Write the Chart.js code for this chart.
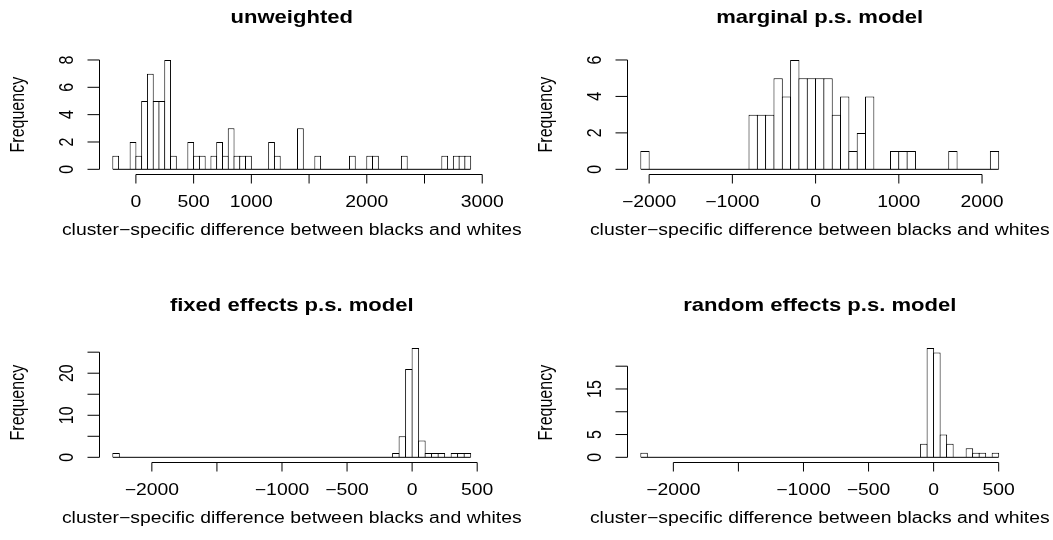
<!DOCTYPE html>
<html>
<head>
<meta charset="utf-8">
<script src="https://cdn.jsdelivr.net/npm/chart.js@4/dist/chart.umd.min.js"></script>
<style>
  body { margin: 0; background: #fff; overflow: hidden; }
  canvas { position: absolute; }
</style>
</head>
<body>
<canvas id="c1" width="526" height="270" style="left:0;top:0"></canvas>
<canvas id="c2" width="525" height="270" style="left:528px;top:0"></canvas>
<canvas id="c3" width="526" height="252" style="left:0;top:288px"></canvas>
<canvas id="c4" width="525" height="252" style="left:528px;top:288px"></canvas>
<script>
const xTitle = 'cluster\u2212specific difference between blacks and whites';

// unweighted: bins of 50 starting at -200
const unwStart = -200, unwWidth = 50;
const unwCounts = [1, 0, 0, 2, 1, 5, 7, 5, 5, 8,
                   1, 0, 0, 2, 1, 1, 0, 1, 2, 1,
                   3, 1, 1, 1, 0, 0, 0, 2, 1, 0,
                   0, 0, 3, 0, 0, 1, 0, 0, 0, 0,
                   0, 1, 0, 0, 1, 1, 0, 0, 0, 0,
                   1, 0, 0, 0, 0, 0, 0, 1, 0, 1,
                   1, 1];
const unwXTicks = [0, 500, 1000, 1500, 2000, 2500, 3000];
const unwXLabels = ['0', '500', '1000', '', '2000', '', '3000'];
const unwYTicks = [0, 2, 4, 6, 8];
const unwYLabels = ['0', '2', '4', '6', '8'];

// marginal p.s. model: bins of 100 starting at -2100
const marStart = -2100, marWidth = 100;
const marCounts = [1, 0, 0, 0, 0, 0, 0, 0, 0, 0,
                   0, 0, 0, 3, 3, 3, 5, 4, 6, 5,
                   5, 5, 5, 3, 4, 1, 2, 4, 0, 0,
                   1, 1, 1, 0, 0, 0, 0, 1, 0, 0,
                   0, 0, 1];
const marXTicks = [-2000, -1000, 0, 1000, 2000];
const marXLabels = ['\u22122000', '\u22121000', '0', '1000', '2000'];
const marYTicks = [0, 2, 4, 6];
const marYLabels = ['0', '2', '4', '6'];

// fixed effects p.s. model: bins of 50 starting at -2300
const fixStart = -2300, fixWidth = 50;
const fixCounts = [1, 0, 0, 0, 0, 0, 0, 0, 0, 0,
                   0, 0, 0, 0, 0, 0, 0, 0, 0, 0,
                   0, 0, 0, 0, 0, 0, 0, 0, 0, 0,
                   0, 0, 0, 0, 0, 0, 0, 0, 0, 0,
                   0, 0, 0, 1, 5, 21, 26, 4, 1, 1,
                   1, 0, 1, 1, 1];
const fixXTicks = [-2000, -1500, -1000, -500, 0, 500];
const fixXLabels = ['\u22122000', '', '\u22121000', '\u2212500', '0', '500'];
const fixYTicks = [0, 5, 10, 15, 20, 25];
const fixYLabels = ['0', '', '10', '', '20', ''];

// random effects p.s. model: bins of 50 starting at -2250
const ranStart = -2250, ranWidth = 50;
const ranCounts = [1, 0, 0, 0, 0, 0, 0, 0, 0, 0,
                   0, 0, 0, 0, 0, 0, 0, 0, 0, 0,
                   0, 0, 0, 0, 0, 0, 0, 0, 0, 0,
                   0, 0, 0, 0, 0, 0, 0, 0, 0, 0,
                   0, 0, 0, 3, 24, 23, 5, 3, 0, 0,
                   2, 1, 1, 0, 1];
const ranXTicks = [-2000, -1500, -1000, -500, 0, 500];
const ranXLabels = ['\u22122000', '', '\u22121000', '\u2212500', '0', '500'];
const ranYTicks = [0, 5, 10, 15, 20];
const ranYLabels = ['0', '5', '', '15', ''];

const FONT = '"Liberation Sans", Arial, Helvetica, sans-serif';
const TEXT_SX = 1.21;   // horizontal stretch of the original text
const PAD_L = 98.5, AREA_W = 386.5, PAD_T = 55.6, AREA_H = 118.1;

function drawText(ctx, str, x, y, rot, font, sx) {
    if (!str) return;
    ctx.save();
    ctx.translate(x, y);
    ctx.scale(sx, 1);
    ctx.rotate(rot);
    ctx.font = font;
    ctx.textAlign = 'center';
    ctx.textBaseline = 'middle';
    ctx.fillText(str, 0, 0);
    ctx.restore();
}

// R style axes: detached axis lines from first to last tick, rotated y labels
const rAxes = {
    id: 'rAxes',
    afterDraw(chart, args, o) {
        const {ctx, chartArea: a, scales: {x, y}} = chart;
        ctx.save();
        ctx.strokeStyle = '#000';
        ctx.fillStyle = '#000';
        ctx.lineWidth = 1;

        const xs = o.xTicks.map(v => x.getPixelForValue(v));
        const yb = Math.round(a.bottom) + 0.5;
        ctx.beginPath();
        ctx.moveTo(xs[0], yb);
        ctx.lineTo(xs[xs.length - 1], yb);
        xs.forEach(px => { ctx.moveTo(px, yb); ctx.lineTo(px, yb + 9); });

        const ys = o.yTicks.map(v => y.getPixelForValue(v));
        const xl = Math.round(a.left) + 0.5;
        ctx.moveTo(xl, ys[0]);
        ctx.lineTo(xl, ys[ys.length - 1]);
        ys.forEach(py => { ctx.moveTo(xl, py); ctx.lineTo(xl - 12, py); });
        ctx.stroke();

        const f = '16px ' + FONT;
        xs.forEach((px, i) => drawText(ctx, o.xLabels[i], px, a.bottom + 28.5, 0, f, TEXT_SX));
        ys.forEach((py, i) => drawText(ctx, o.yLabels[i], a.left - 31, py, -Math.PI / 2, f, TEXT_SX));
        drawText(ctx, xTitle, (a.left + a.right) / 2, a.bottom + 56.5, 0, f, TEXT_SX);
        drawText(ctx, 'Frequency', a.left - 80, (a.top + a.bottom) / 2, -Math.PI / 2, f, TEXT_SX);
        drawText(ctx, o.title, (a.left + a.right) / 2, a.top - 37.5, 0, 'bold 19px ' + FONT, 1.16);
        ctx.restore();
    }
};

function histPanel(id, title, start, width, counts, xTicks, xLabels, yTicks, yLabels) {
    const canvas = document.getElementById(id);
    const W = canvas.width, H = canvas.height;
    const lo = start, hi = start + counts.length * width;
    const xr = (hi - lo) * 0.04;
    const ymax = Math.max(...counts);
    const binPx = width * AREA_W / (hi - lo + 2 * xr);

    new Chart(canvas, {
        type: 'bar',
        data: {
            datasets: [
                {
                    type: 'line',
                    data: [{x: lo, y: 0}, {x: hi, y: 0}],
                    borderColor: '#000',
                    borderWidth: 1,
                    pointRadius: 0,
                    order: 0
                },
                {
                    data: counts.map((c, i) => ({x: lo + (i + 0.5) * width, y: c})),
                    backgroundColor: '#fff',
                    borderColor: '#000',
                    borderWidth: 1,
                    categoryPercentage: 1,
                    barPercentage: (binPx + 1) / binPx,
                    order: 1
                }
            ]
        },
        options: {
            responsive: false,
            animation: false,
            events: [],
            layout: {
                padding: {left: PAD_L, right: W - PAD_L - AREA_W, top: PAD_T, bottom: H - PAD_T - AREA_H}
            },
            scales: {
                x: {type: 'linear', min: lo - xr, max: hi + xr, offset: false, display: false},
                y: {type: 'linear', min: -0.04 * ymax, max: 1.04 * ymax, display: false}
            },
            plugins: {
                legend: {display: false},
                tooltip: {enabled: false},
                rAxes: {title, xTicks, xLabels, yTicks, yLabels}
            }
        },
        plugins: [rAxes]
    });
}

histPanel('c1', 'unweighted', unwStart, unwWidth, unwCounts, unwXTicks, unwXLabels, unwYTicks, unwYLabels);
histPanel('c2', 'marginal p.s. model', marStart, marWidth, marCounts, marXTicks, marXLabels, marYTicks, marYLabels);
histPanel('c3', 'fixed effects p.s. model', fixStart, fixWidth, fixCounts, fixXTicks, fixXLabels, fixYTicks, fixYLabels);
histPanel('c4', 'random effects p.s. model', ranStart, ranWidth, ranCounts, ranXTicks, ranXLabels, ranYTicks, ranYLabels);
</script>
</body>
</html>
